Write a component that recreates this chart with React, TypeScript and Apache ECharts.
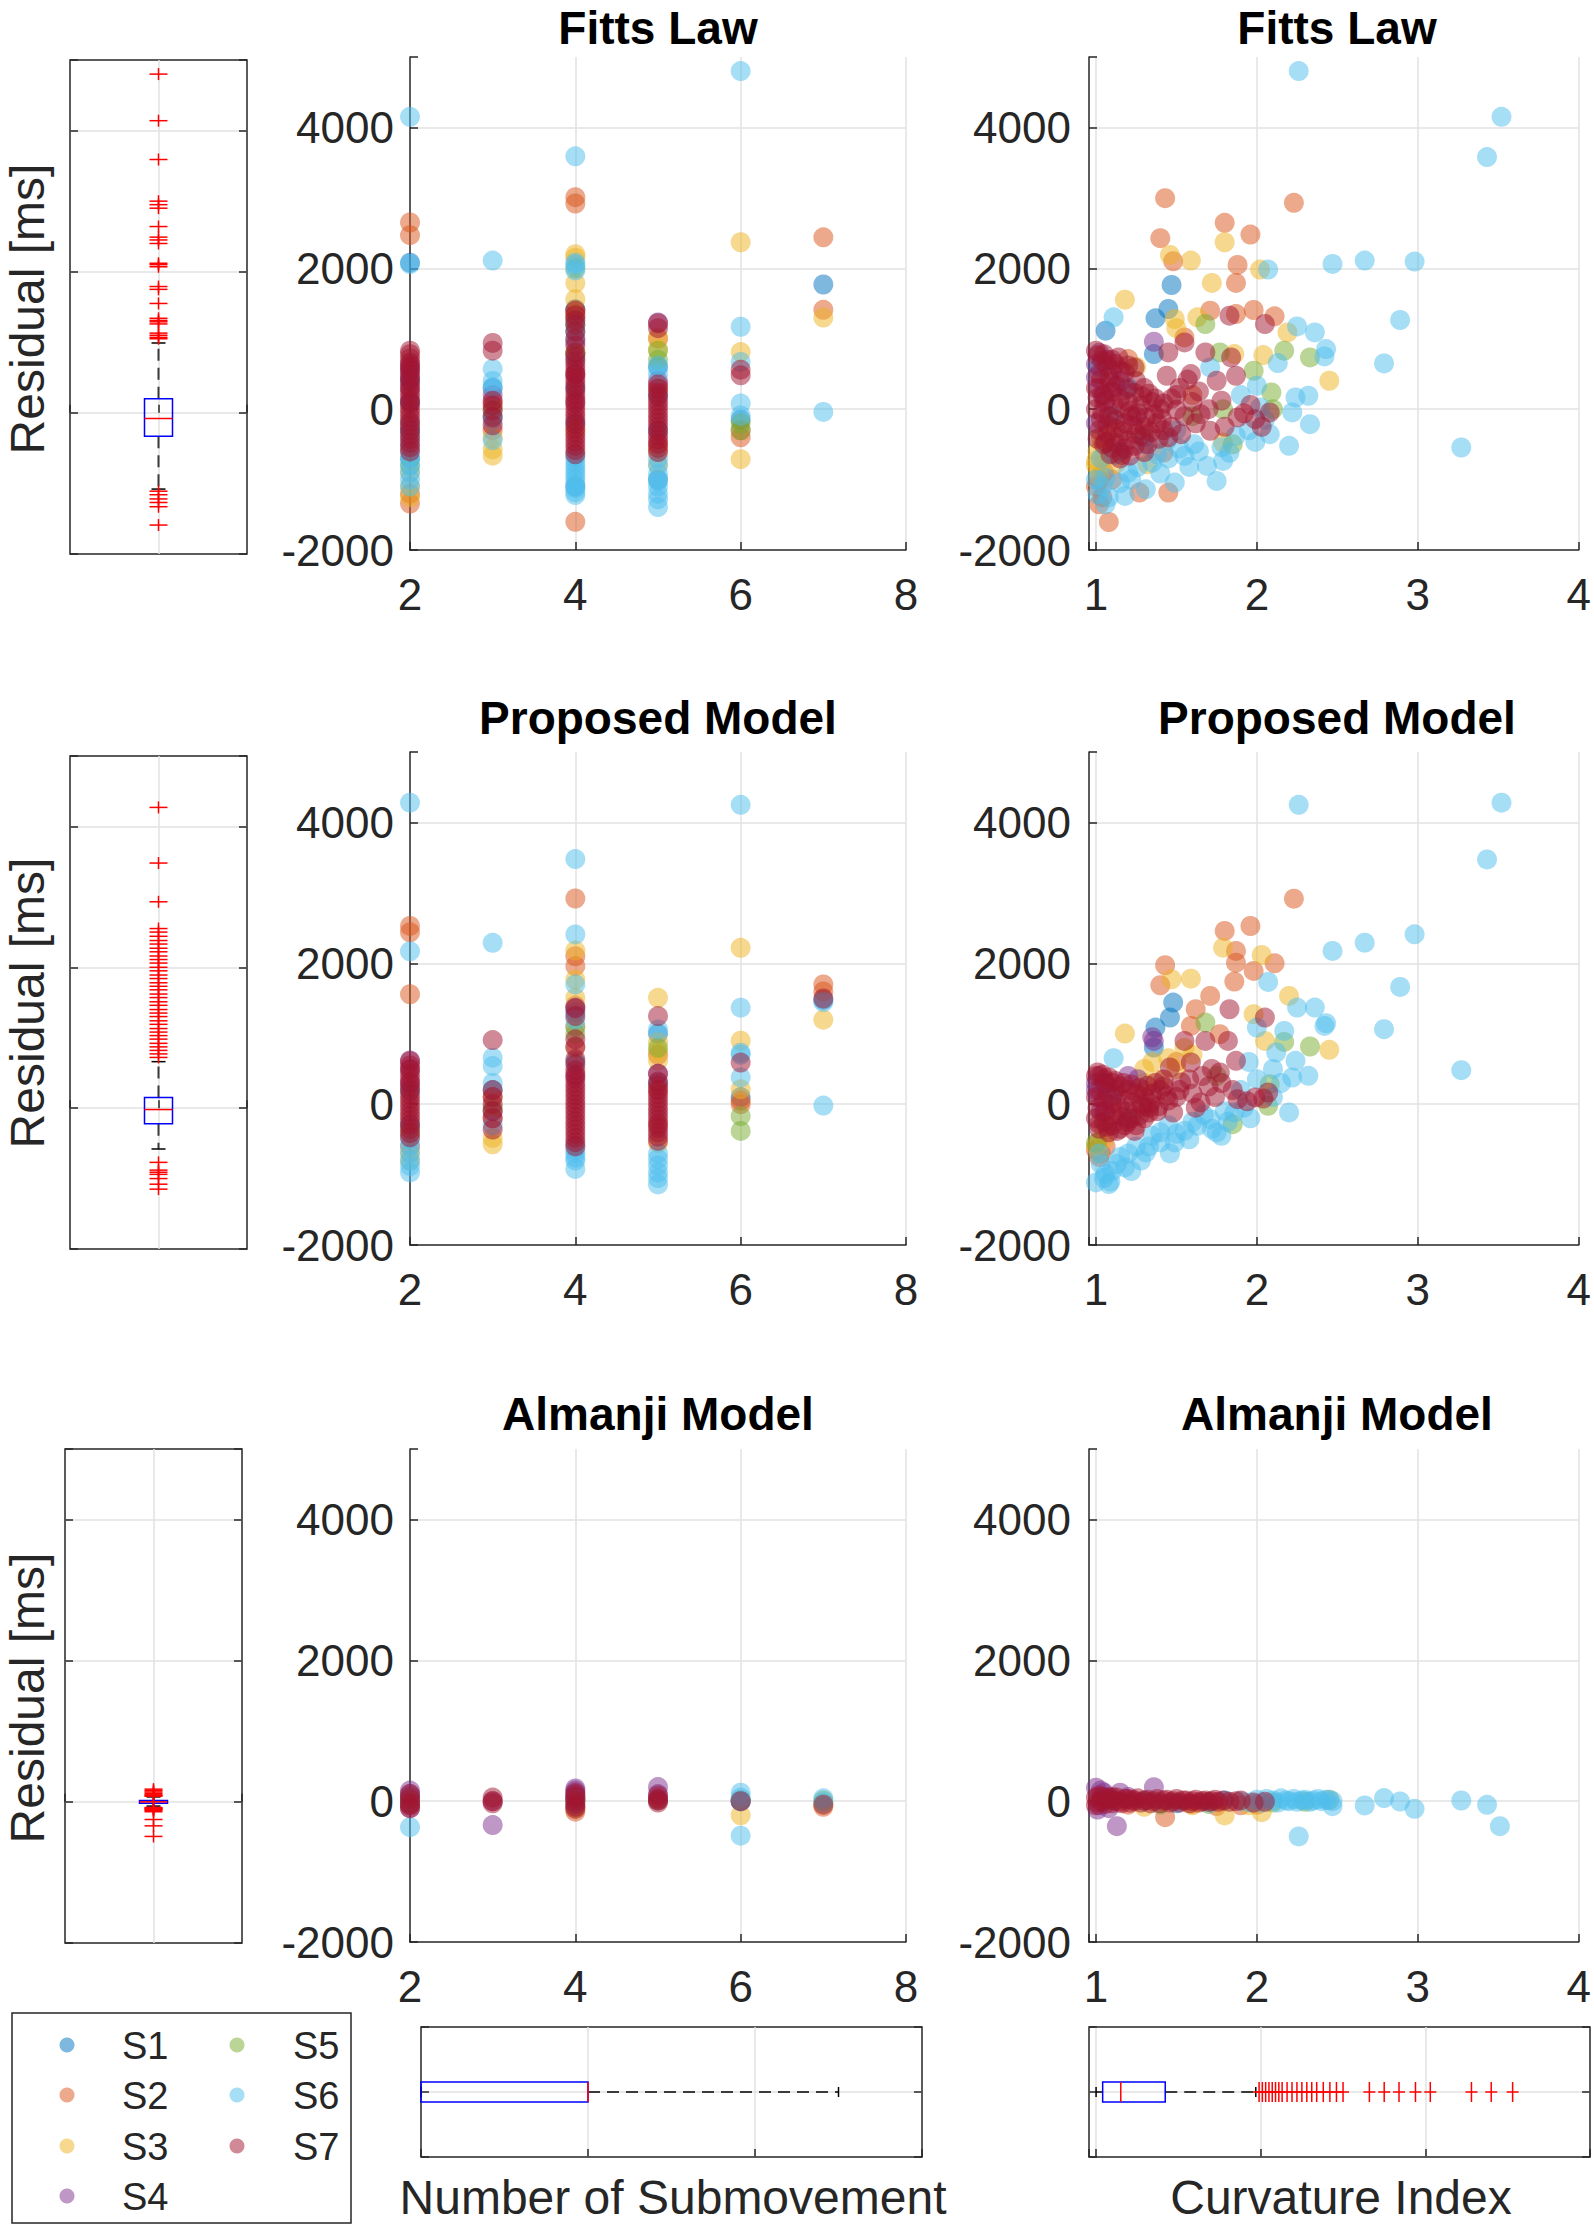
import React, { useEffect, useRef } from 'react';
import * as echarts from 'echarts';

const FONT = '"Liberation Sans", Arial, Helvetica, sans-serif';
const INK = '#262626';
const GRID_LINE = '#e2e2e2';

const SUBJECTS = ['S1', 'S2', 'S3', 'S4', 'S5', 'S6', 'S7'];
const SUBJECT_COLORS = ['#0072BD', '#D95319', '#EDB120', '#7E2F8E', '#77AC30', '#4DBEEE', '#A2142F'];
const MODEL_TITLES = ['Fitts Law', 'Proposed Model', 'Almanji Model'];
const Y_LABEL = 'Residual [ms]';
const X_LABELS = ['Number of Submovement', 'Curvature Index'];
const Y_TICKS = [-2000, 0, 2000, 4000];
const SUB_TICKS = [2, 4, 6, 8];
const CI_TICKS = [1, 2, 3, 4];

type Groups = [number, number[]][];

// ---------- Residual vs number of submovements: [nSub, residuals[]] ----------
const fittsSubS1: Groups = [[2, [2080, 400, 100, -300, -700]], [3, [300, -100]], [4, [1420, 1290, 1110, 780, 300, -200, -1100]], [5, [600, 200, -300, -1000]], [6, [-150]], [7, [1770]]];
const fittsSubS2: Groups = [[2, [2650, 2470, 600, -200, -1200, -1340]], [3, [100, -300]], [4, [3010, 2920, 1400, 1350, 500, -1600]], [5, [1000, 300, -500]], [6, [-400, -300]], [7, [2440, 1410]]];
const fittsSubS3: Groups = [[2, [-900, -1100, -1250]], [3, [-400, -570, -660]], [4, [2200, 2150, 1790, 1560, 1300, 800, -300]], [5, [1020, 850, -600, -780]], [6, [2370, 810, -710]], [7, [1300]]];
const fittsSubS4: Groups = [[2, [640, 550, 450, 300, 100]], [3, [200]], [4, [950, 500, 100]], [5, [1230, 400]]];
const fittsSubS5: Groups = [[2, [-800]], [3, [0]], [4, [2000, 1200, 800]], [5, [830, 700]], [6, [-300, -200]]];
const fittsSubS6: Groups = [[2, [4150, 2060, -200, -300, -400, -500, -600, -700, -800, -900, -1000, -1100]], [3, [2110, 570, 400, 310, -160, -440]], [4, [3590, 2080, 2050, 1970, 1200, 1000, 700, -650, -700, -760, -820, -880, -940, -1000, -1060, -1120, -1180, -1220]], [5, [620, 500, -700, -800, -920, -1020, -1100, -1200, -1280, -1390]], [6, [4800, 1170, 670, 80, -90]], [7, [-40]]];
const fittsSubS7: Groups = [[2, [830, 780, 720, 660, 600, 540, 480, 420, 360, 300, 240, 180, 120, 60, 0, -60, -120, -180, -240, -300, -360, -420, -480, -540, -600]], [3, [940, 830, 120, 50, -20, -120, -230]], [4, [1400, 1330, 1260, 1200, 1100, 1000, 900, 800, 740, 680, 620, 560, 500, 440, 380, 320, 260, 200, 140, 80, 20, -40, -100, -160, -220, -280, -340, -400, -460, -520, -580, -640]], [5, [1220, 1150, 350, 290, 230, 170, 110, 50, -10, -70, -130, -190, -250, -310, -370, -430, -490, -550, -610]], [6, [480, 560]]];

const propSubS1: Groups = [[2, [200, -300]], [3, [200]], [4, [1300, 1100, 600]], [5, [1000, 300]], [6, [100]], [7, [1480]]];
const propSubS2: Groups = [[2, [2530, 2440, 1560, -600]], [3, [100, -200]], [4, [2920, 2100, 1960, 1400, 800]], [5, [700, 200, -300]], [6, [0, 50]], [7, [1700, 1600]]];
const propSubS3: Groups = [[2, [-690, -800]], [3, [-480, -570]], [4, [2180, 1770, 1510, 1100]], [5, [1510, 880, 750, 620, -550]], [6, [2220, 900, 210]], [7, [1200]]];
const propSubS4: Groups = [[2, [620, 500, 300]], [3, [-100]], [4, [1370, 400]], [5, [430]]];
const propSubS5: Groups = [[2, [-400]], [3, [-50]], [4, [1000]], [5, [800]], [6, [-170, -380]]];
const propSubS6: Groups = [[2, [4280, 2170, -500, -590, -700, -800, -880, -970]], [3, [2290, 660, 540, 300, -300]], [4, [3480, 2410, 1700, 1200, -590, -650, -700, -760, -800, -920]], [5, [1060, -700, -780, -870, -970, -1050, -1140]], [6, [4250, 1370, 730, 700, 380]], [7, [1450, -20]]];
const propSubS7: Groups = [[2, [610, 550, 490, 430, 370, 310, 250, 190, 130, 70, 10, -50, -110, -170, -230, -290, -350, -410, -470]], [3, [910, 200, 100, 0, -100, -200, -360]], [4, [1360, 1250, 920, 820, 640, 560, 480, 420, 360, 300, 240, 180, 120, 60, 0, -60, -120, -180, -240, -300, -360, -420, -480, -540, -600]], [5, [1250, 430, 320, 260, 200, 140, 80, 20, -40, -100, -160, -220, -280, -340, -400, -460, -520]], [6, [590]], [7, [1500]]];

const almSubS1: Groups = [[2, [30]], [4, [20]], [5, [10]], [6, [0]]];
const almSubS2: Groups = [[2, [-30]], [4, [-150, -80]], [5, [20]], [7, [-80]]];
const almSubS3: Groups = [[2, [-50]], [4, [-100]], [6, [-200]], [7, [-40]]];
const almSubS4: Groups = [[2, [150, 100, 50, -50, -100]], [3, [-340, 0]], [4, [180, 150, 100, 50]], [5, [200, 100]], [6, [0]]];
const almSubS5: Groups = [[2, [0]], [4, [0]], [6, [20]], [7, [10]]];
const almSubS6: Groups = [[2, [-370, 50, 0]], [4, [-50, 30]], [6, [-490, 120, 50, 0]], [7, [40, -20]]];
const almSubS7: Groups = [[2, [100, 60, 20, -20, -60, -100]], [3, [50, 0, -30]], [4, [120, 80, 40, 0, -40, -80, -110]], [5, [80, 40, 10, -20]], [6, [0]], [7, [-50]]];

// ---------- Residual vs curvature index: [ci, residual] ----------
const fittsCiS1 = [[1.47, 1763], [1.45, 1422], [1.37, 1289], [1.06, 1114], [1.36, 782], [1.2, 300], [1.1, -100], [1.3, -400], [1.02, 600], [1.15, -600]];
const fittsCiS2 = [[1.43, 2996], [2.23, 2929], [1.8, 2645], [1.4, 2427], [1.96, 2479], [1.88, 2048], [1.87, 1792], [1.71, 1398], [1.87, 1351], [1.98, 1408], [2.11, 1318], [1.08, -1602], [1.27, -1185], [1.45, -1185], [1.02, -1351], [1.42, -616], [1.2, 711], [1.55, 1019], [1.48, 2100], [1.3, -300], [1.05, -900], [1.6, 200], [1.1, -1000], [1.0, -1100], [1.02, -1000], [1.04, -1250]];
const fittsCiS3 = [[1.46, 2190], [1.59, 2109], [1.8, 2370], [1.72, 1792], [1.18, 1555], [1.49, 1280], [2.02, 1981], [2.04, 768], [2.19, 1090], [2.45, 403], [1.63, 1303], [1.32, -782], [1.0, -735], [1.86, 782], [1.79, -474], [1.01, -600], [1.02, -850], [1.04, -500], [1.1, -300], [1.25, 600], [1.5, 1150], [1.0, -800], [1.02, -950], [1.05, -700], [1.08, -620], [1.12, -780], [1.03, -400]];
const fittsCiS4 = [[1.36, 957], [1.0, 640], [1.1, 545], [1.02, 300], [1.05, 100], [1.15, 400], [1.25, -100], [1.0, -200], [1.0, 450], [1.02, 800], [1.04, 200], [1.07, 700], [1.12, 300]];
const fittsCiS5 = [[1.68, 1209], [1.77, 806], [1.98, 545], [2.09, 237], [2.33, 735], [2.17, 830], [1.85, -498], [1.79, 0], [1.6, -100], [2.1, 0]];
const fittsCiS6 = [[3.52, 4150], [2.26, 4800], [3.43, 3579], [2.47, 2062], [2.67, 2109], [2.98, 2095], [2.07, 1981], [2.89, 1266], [2.79, 649], [3.27, -545], [1.11, 1303], [2.25, 1175], [2.36, 1090], [2.43, 853], [2.42, 749], [2.13, 654], [2.24, 166], [2.32, 190], [2.22, -47], [2.33, -213], [2.2, -521], [1.99, -465], [2.08, -355], [1.75, -1019], [1.69, -806], [1.79, -735], [1.55, -664], [1.49, -1043], [1.4, -915], [1.18, -1232], [1.31, -1138], [1.06, -1351], [1.01, -1209], [2.0, 332], [2.02, 24], [1.71, 593], [1.87, -379], [1.61, -498], [1.44, -450], [1.2, -900], [1.06, -972], [1.3, -500], [1.5, -300], [1.9, 200], [1.03, -700], [1.12, -650], [1.0, -1000], [1.04, -1100], [1.08, -1250], [1.15, -1050], [1.22, -1000], [1.26, -820], [1.35, -760], [1.38, -640], [1.45, -700], [1.52, -560], [1.58, -820], [1.64, -600], [1.78, -540], [1.83, -620], [1.95, -300], [2.05, -150]];
const fittsCiS7 = [[1.0, 830], [1.05, 780], [1.1, 700], [1.02, 500], [1.08, 450], [1.15, 550], [1.2, 620], [1.25, 400], [1.3, 300], [1.0, 300], [1.05, 200], [1.1, 250], [1.15, 150], [1.2, 100], [1.28, 50], [1.35, 100], [1.4, 0], [1.0, 0], [1.04, -50], [1.08, -100], [1.12, -150], [1.18, -200], [1.22, -100], [1.3, -250], [1.38, -200], [1.02, -300], [1.07, -350], [1.14, -400], [1.2, -450], [1.25, -350], [1.32, -500], [1.1, -550], [1.16, -650], [1.05, -500], [1.42, -300], [1.83, 1327], [2.05, 1209], [1.68, 806], [1.84, 735], [1.87, 474], [1.75, 403], [1.59, 498], [1.55, 948], [1.45, 806], [1.44, 474], [1.65, -71], [1.88, -118], [1.99, -142], [2.08, -47], [1.71, -308], [1.53, -355], [1.14, 735], [1.24, 593], [1.5, 200], [1.6, 100], [1.7, 0], [1.55, -100], [1.01, 760], [1.04, 690], [1.07, 620], [1.12, 640], [1.18, 520], [1.03, 420], [1.09, 380], [1.13, 330], [1.19, 280], [1.24, 230], [1.29, 180], [1.33, 220], [1.37, 150], [1.42, 80], [1.01, 160], [1.06, 120], [1.11, 60], [1.16, 20], [1.21, -30], [1.26, -60], [1.31, -120], [1.36, -70], [1.41, -140], [1.03, -150], [1.07, -220], [1.12, -270], [1.17, -310], [1.23, -230], [1.28, -380], [1.34, -330], [1.39, -420], [1.01, -420], [1.06, -470], [1.12, -480], [1.18, -560], [1.24, -520], [1.3, -610], [1.09, -640], [1.15, -700], [1.21, -660], [1.45, -400], [1.47, -250], [1.5, -10], [1.47, 150], [1.52, 300], [1.57, 420], [1.62, -200], [1.64, 250], [1.78, 120], [1.8, -250], [1.92, -60], [1.96, 60], [2.03, -250]];

const propCiS1 = [[1.48, 1442], [1.46, 1229], [1.37, 1087], [1.36, 804], [1.1, 100], [1.2, -200], [1.05, 300]];
const propCiS2 = [[2.23, 2917], [1.96, 2529], [1.8, 2459], [1.87, 2175], [1.87, 2009], [2.11, 2000], [1.43, 1972], [1.98, 1891], [1.86, 1740], [1.4, 1688], [1.71, 1537], [1.62, 1347], [1.59, 1111], [1.77, 993], [1.0, -650], [1.02, -750], [1.3, 200], [1.5, 600], [1.1, -100], [1.01, -550], [1.03, -700], [1.06, -600]];
const propCiS3 = [[1.79, 2222], [2.03, 2118], [1.59, 1782], [1.47, 1773], [2.2, 1537], [1.18, 1002], [1.98, 1277], [2.05, 898], [2.45, 771], [1.5, 500], [1.4, 350], [1.3, 500], [1.0, -600], [1.05, -500], [1.6, 700], [1.02, -700], [1.05, -350], [1.3, 300], [1.35, 600], [1.45, 650], [1.55, 800]];
const propCiS4 = [[1.36, 898], [1.0, 300], [1.26, 355], [1.02, 100], [1.05, -100], [1.12, 200], [1.2, 400], [1.0, 200], [1.02, 400], [1.03, -100], [1.06, 300], [1.35, 950]];
const propCiS5 = [[1.68, 1158], [2.17, 884], [2.33, 818], [2.08, 284], [2.07, -24], [1.85, -284], [1.0, -550], [1.75, 400]];
const propCiS6 = [[3.52, 4280], [2.26, 4250], [3.43, 3475], [2.07, 1735], [2.25, 1371], [2.36, 1371], [2.42, 1111], [2.17, 1040], [2.47, 2175], [2.67, 2293], [2.98, 2411], [2.89, 1664], [2.79, 1064], [3.27, 482], [1.11, 652], [2.0, 1087], [2.12, 733], [2.24, 615], [2.22, 378], [2.32, 402], [2.2, -118], [2.0, 355], [1.75, -402], [1.86, -118], [1.49, -544], [1.4, -544], [1.31, -686], [1.18, -898], [1.08, -1135], [1.0, -1111], [1.06, -993], [1.63, -307], [1.55, -378], [1.71, -213], [2.43, 1150], [1.9, 200], [1.8, -100], [1.45, -300], [1.25, -600], [1.15, -750], [1.03, -850], [1.1, -950], [1.35, -450], [2.1, 500], [1.95, 600], [1.02, -700], [1.05, -1050], [1.09, -1100], [1.13, -850], [1.2, -700], [1.22, -950], [1.28, -800], [1.33, -600], [1.4, -400], [1.46, -700], [1.5, -420], [1.58, -500], [1.6, -250], [1.67, -150], [1.72, -350], [1.78, -450], [1.82, -250], [1.92, -50], [1.96, -200], [2.1, 100], [2.15, 300]];
const propCiS7 = [[1.0, 400], [1.05, 350], [1.1, 300], [1.15, 250], [1.2, 200], [1.25, 150], [1.3, 100], [1.35, 150], [1.4, 200], [1.0, 100], [1.05, 50], [1.1, 0], [1.15, -50], [1.2, -100], [1.28, 0], [1.33, -50], [1.0, -200], [1.05, -250], [1.1, -300], [1.15, -350], [1.2, -250], [1.25, -300], [1.3, -200], [1.38, -100], [1.02, -350], [1.08, -400], [1.45, 50], [1.83, 1347], [2.05, 1229], [1.68, 898], [1.82, 898], [1.55, 898], [1.46, 520], [1.59, 591], [1.87, 615], [1.77, 449], [1.88, 71], [1.99, 95], [2.07, 165], [1.53, 307], [1.65, 24], [1.7, 250], [1.6, 150], [1.5, 100], [1.42, 350], [1.01, 450], [1.04, 420], [1.08, 380], [1.12, 330], [1.17, 300], [1.22, 280], [1.27, 230], [1.32, 260], [1.37, 300], [1.42, 250], [1.02, 200], [1.07, 160], [1.13, 120], [1.18, 60], [1.23, 20], [1.29, -40], [1.34, 20], [1.39, -30], [1.44, 120], [1.01, -60], [1.06, -100], [1.11, -150], [1.16, -180], [1.22, -200], [1.27, -160], [1.33, -120], [1.02, -280], [1.07, -320], [1.13, -380], [1.18, -300], [1.24, -380], [1.48, -120], [1.52, 200], [1.58, 350], [1.62, -50], [1.66, 400], [1.72, 500], [1.78, 300], [1.74, 100], [1.85, 200], [1.94, 40], [2.04, 80]];

const almCiS1 = [[1.1, 20], [1.3, 0], [1.5, -30], [1.8, 10]];
const almCiS2 = [[1.43, -227], [1.2, -50], [1.6, -40], [1.9, -60], [2.0, -50], [1.75, -70]];
const almCiS3 = [[1.8, -203], [2.03, -156], [1.3, -80], [1.6, -60], [2.45, 20], [1.95, -60]];
const almCiS4 = [[1.13, -355], [1.36, 199], [1.0, 190], [1.05, 120], [1.08, -100], [1.2, 60], [1.02, -60], [1.03, 150], [1.07, 60], [1.15, 120], [1.01, -120]];
const almCiS5 = [[1.4, -50], [1.7, -40], [2.1, -20], [2.3, -10]];
const almCiS6 = [[2.26, -501], [3.51, -355], [3.43, -52], [3.27, 9], [2.98, -109], [2.89, -5], [2.79, 43], [2.67, -61], [2.47, -71], [2.0, 20], [2.03, -20], [2.06, 30], [2.1, 10], [2.13, -20], [2.15, 40], [2.18, 10], [2.2, 0], [2.23, 30], [2.25, -10], [2.28, 10], [2.3, 20], [2.33, -10], [2.35, 10], [2.38, 30], [2.4, 0], [2.43, 20], [2.45, 20], [2.47, 0], [1.9, 0], [1.96, -20], [1.7, -20]];
const almCiS7 = [[1.0, 50], [1.01, -20], [1.03, 0], [1.04, 60], [1.06, -40], [1.07, 20], [1.09, 40], [1.1, -30], [1.12, 0], [1.13, 50], [1.15, -10], [1.16, -30], [1.18, 30], [1.2, 30], [1.21, -20], [1.23, 20], [1.24, 0], [1.26, 40], [1.28, -20], [1.3, 10], [1.32, 20], [1.34, -30], [1.36, 0], [1.38, 30], [1.4, -30], [1.42, 10], [1.44, 20], [1.46, -20], [1.48, 0], [1.5, 30], [1.52, -20], [1.54, 10], [1.56, 10], [1.58, -30], [1.6, 0], [1.62, 20], [1.64, -20], [1.66, 0], [1.68, 10], [1.7, -10], [1.72, 0], [1.74, 20], [1.76, -10], [1.79, 10], [1.83, -10], [1.87, 0], [1.9, 10], [1.98, -20], [2.05, -10], [1.0, -60], [1.1, 60], [1.02, 80]];

// ---------- Box plots: [lower whisker, Q1, median, Q3, upper whisker] ----------
const fittsBox = [-1080, -330, -80, 200, 990];
const fittsOutliers = [4800, 4140, 3590, 3000, 2950, 2900, 2640, 2490, 2450, 2400, 2120, 2100, 2070, 1790, 1750, 1550, 1340, 1310, 1290, 1260, 1130, 1100, 1070, 1050, -1110, -1160, -1220, -1270, -1330, -1590];
const propBox = [-580, -220, -20, 150, 660];
const propOutliers = [4270, 3480, 2930, 2550, 2500, 2440, 2380, 2330, 2270, 2220, 2160, 2110, 2060, 2000, 1950, 1890, 1840, 1780, 1730, 1680, 1620, 1570, 1510, 1460, 1400, 1350, 1300, 1240, 1190, 1130, 1080, 1030, 980, 920, 870, 820, 770, 720, -770, -880, -910, -940, -1000, -1080, -1150];
const almBox = [-60, -20, 0, 20, 70];
const almOutliers = [180, 160, 140, 120, 100, 90, 80, -80, -90, -100, -110, -120, -140, -250, -340, -490];
const subBox = [2, 2, 4, 4, 7];
const ciBox = [1.0, 1.04, 1.15, 1.42, 1.97];
const ciOutliers = [1.99, 2.01, 2.03, 2.05, 2.07, 2.09, 2.11, 2.13, 2.16, 2.19, 2.22, 2.25, 2.28, 2.31, 2.34, 2.38, 2.42, 2.46, 2.5, 2.66, 2.75, 2.84, 2.94, 3.03, 3.28, 3.4, 3.53];

const SUB_DATA = [
  [fittsSubS1, fittsSubS2, fittsSubS3, fittsSubS4, fittsSubS5, fittsSubS6, fittsSubS7],
  [propSubS1, propSubS2, propSubS3, propSubS4, propSubS5, propSubS6, propSubS7],
  [almSubS1, almSubS2, almSubS3, almSubS4, almSubS5, almSubS6, almSubS7],
];
const CI_DATA = [
  [fittsCiS1, fittsCiS2, fittsCiS3, fittsCiS4, fittsCiS5, fittsCiS6, fittsCiS7],
  [propCiS1, propCiS2, propCiS3, propCiS4, propCiS5, propCiS6, propCiS7],
  [almCiS1, almCiS2, almCiS3, almCiS4, almCiS5, almCiS6, almCiS7],
];
const BOXES = [fittsBox, propBox, almBox];
const OUTLIERS = [fittsOutliers, propOutliers, almOutliers];

// ---------- layout (px) ----------
const ROW_TOP = [57, 752, 1449];
const PLOT_H = 493;
const PLOT_W = 496;
const SUB_LEFT = 410;
const CI_LEFT = 1089;
const BOX_RECTS = [[70, 60, 177, 494], [70, 756, 177, 493], [65, 1449, 177, 494]];
const TITLE_Y = [28, 718, 1414];
const YLABEL_Y = [309, 1003, 1698];
const BOTTOM_TOP = 2027;
const BOTTOM_H = 130;
const BOTTOM_SUB = [421, 501];
const BOTTOM_CI = [1089, 501];

function flatten(groups: Groups): number[][] {
  const out: number[][] = [];
  groups.forEach(([x, ys]) => ys.forEach((y) => out.push([x, y])));
  return out;
}

const lineStyle = { color: INK, width: 1.5 };
const dashStyle = { stroke: '#3a3a3a', lineWidth: 2, lineDash: [12, 7] };
const solidBlack = { stroke: '#000', lineWidth: 1.5 };
const boxStroke = { stroke: '#0000FF', lineWidth: 1.5, fill: 'none' };
const medStroke = { stroke: '#FF0000', lineWidth: 1.5 };
const plusStroke = { stroke: '#FF0000', lineWidth: 1.5 };

function renderVBox(_p: any, api: any) {
  const x = api.value(0);
  const lo = api.coord([x, api.value(1)]);
  const q1 = api.coord([x, api.value(2)]);
  const md = api.coord([x, api.value(3)]);
  const q3 = api.coord([x, api.value(4)]);
  const hi = api.coord([x, api.value(5)]);
  const cx = lo[0];
  const bw = 28, cw = 14;
  return {
    type: 'group',
    children: [
      { type: 'line', shape: { x1: cx, y1: q3[1], x2: cx, y2: hi[1] }, style: dashStyle },
      { type: 'line', shape: { x1: cx, y1: q1[1], x2: cx, y2: lo[1] }, style: dashStyle },
      { type: 'line', shape: { x1: cx - cw / 2, y1: hi[1], x2: cx + cw / 2, y2: hi[1] }, style: solidBlack },
      { type: 'line', shape: { x1: cx - cw / 2, y1: lo[1], x2: cx + cw / 2, y2: lo[1] }, style: solidBlack },
      { type: 'rect', shape: { x: cx - bw / 2, y: q3[1], width: bw, height: q1[1] - q3[1] }, style: boxStroke },
      { type: 'line', shape: { x1: cx - bw / 2, y1: md[1], x2: cx + bw / 2, y2: md[1] }, style: medStroke },
    ],
  };
}

function renderHBox(_p: any, api: any) {
  const y = api.value(5);
  const lo = api.coord([api.value(0), y]);
  const q1 = api.coord([api.value(1), y]);
  const md = api.coord([api.value(2), y]);
  const q3 = api.coord([api.value(3), y]);
  const hi = api.coord([api.value(4), y]);
  const cy = lo[1];
  const bh = 20, ch = 10;
  return {
    type: 'group',
    children: [
      { type: 'line', shape: { x1: q3[0], y1: cy, x2: hi[0], y2: cy }, style: dashStyle },
      { type: 'line', shape: { x1: lo[0], y1: cy, x2: q1[0], y2: cy }, style: dashStyle },
      { type: 'line', shape: { x1: hi[0], y1: cy - ch / 2, x2: hi[0], y2: cy + ch / 2 }, style: solidBlack },
      { type: 'line', shape: { x1: lo[0], y1: cy - ch / 2, x2: lo[0], y2: cy + ch / 2 }, style: solidBlack },
      { type: 'rect', shape: { x: q1[0], y: cy - bh / 2, width: q3[0] - q1[0], height: bh }, style: boxStroke },
      { type: 'line', shape: { x1: md[0], y1: cy - bh / 2, x2: md[0], y2: cy + bh / 2 }, style: medStroke },
    ],
  };
}

function makePlus(hw: number, hh: number) {
  return (_p: any, api: any) => {
    const p = api.coord([api.value(0), api.value(1)]);
    return {
      type: 'group',
      children: [
        { type: 'line', shape: { x1: p[0] - hw, y1: p[1], x2: p[0] + hw, y2: p[1] }, style: plusStroke },
        { type: 'line', shape: { x1: p[0], y1: p[1] - hh, x2: p[0], y2: p[1] + hh }, style: plusStroke },
      ],
    };
  };
}

function buildOption(): any {
  const grids: any[] = [];
  const xAxes: any[] = [];
  const yAxes: any[] = [];
  const extraY: any[] = [];
  const series: any[] = [];

  const tickLabel = { fontSize: 44, color: INK, fontFamily: FONT };
  const split = (showMin: boolean, showMax: boolean) => ({ show: true, showMinLine: showMin, showMaxLine: showMax, lineStyle: { color: GRID_LINE, width: 1.5 } });

  const addScatterPanel = (left: number, top: number, isCi: boolean, row: number) => {
    const gi = grids.length;
    grids.push({ left, top, width: PLOT_W, height: PLOT_H, show: false });
    xAxes.push(isCi
      ? { type: 'value', gridIndex: gi, min: 0.957, max: 4, splitNumber: 3, minInterval: 1, maxInterval: 1,
          axisLine: { show: true, onZero: false, lineStyle }, axisTick: { show: true, inside: true, length: 8, lineStyle },
          axisLabel: { ...tickLabel, margin: 22, formatter: (v: number) => (CI_TICKS.includes(v) ? String(v) : '') },
          splitLine: split(false, true) }
      : { type: 'value', gridIndex: gi, min: 2, max: 8, interval: 2,
          axisLine: { show: true, onZero: false, lineStyle }, axisTick: { show: true, inside: true, length: 8, lineStyle },
          axisLabel: { ...tickLabel, margin: 22, formatter: (v: number) => (SUB_TICKS.includes(v) ? String(v) : '') },
          splitLine: split(false, true) });
    yAxes.push({ type: 'value', gridIndex: gi, min: -2000, max: 5000, interval: 2000,
      axisLine: { show: true, onZero: false, lineStyle }, axisTick: { show: true, inside: true, length: 8, lineStyle },
      axisLabel: { ...tickLabel, margin: isCi ? 18 : 16, formatter: (v: number) => (Y_TICKS.includes(v) ? String(v) : '') },
      splitLine: split(false, false) });
    SUBJECTS.forEach((name, s) => {
      const data = isCi ? CI_DATA[row][s] : flatten(SUB_DATA[row][s]);
      series.push({ type: 'scatter', name, xAxisIndex: gi, yAxisIndex: gi, data, symbol: 'circle', symbolSize: 20,
        itemStyle: { color: SUBJECT_COLORS[s], opacity: 0.5 }, clip: false, silent: true });
    });
  };

  const addBoxFrame = (left: number, top: number, width: number, height: number, vertical: boolean, xr: [number, number, number]) => {
    const gi = grids.length;
    grids.push({ left, top, width, height, show: true, borderColor: INK, borderWidth: 1.5, backgroundColor: 'transparent' });
    const tick = { show: true, inside: true, length: 8, lineStyle };
    if (vertical) {
      xAxes.push({ type: 'value', gridIndex: gi, min: 0, max: 2, interval: 1, axisLine: { show: false }, axisTick: tick,
        axisLabel: { show: false }, splitLine: split(false, false) });
      yAxes.push({ type: 'value', gridIndex: gi, min: -2000, max: 5000, interval: 2000, axisLine: { show: false }, axisTick: tick,
        axisLabel: { show: false }, splitLine: split(false, false) });
      extraY.push({ type: 'value', gridIndex: gi, position: 'right', min: -2000, max: 5000, interval: 2000, axisLine: { show: false },
        axisTick: tick, axisLabel: { show: false }, splitLine: { show: false } });
    } else {
      const [mn, mx, iv] = xr;
      xAxes.push(iv > 0
        ? { type: 'value', gridIndex: gi, min: mn, max: mx, interval: iv, axisLine: { show: false }, axisTick: tick, axisLabel: { show: false }, splitLine: split(false, false) }
        : { type: 'value', gridIndex: gi, min: mn, max: mx, splitNumber: 3, minInterval: 1, maxInterval: 1, axisLine: { show: false }, axisTick: tick, axisLabel: { show: false }, splitLine: split(false, false) });
      yAxes.push({ type: 'value', gridIndex: gi, min: 0, max: 2, interval: 1, axisLine: { show: false }, axisTick: tick,
        axisLabel: { show: false }, splitLine: split(false, false) });
      extraY.push({ type: 'value', gridIndex: gi, position: 'right', min: 0, max: 2, interval: 1, axisLine: { show: false },
        axisTick: tick, axisLabel: { show: false }, splitLine: { show: false } });
    }
    return gi;
  };

  const boxGrids: number[] = [];
  for (let r = 0; r < 3; r++) {
    const [bl, bt, bw, bh] = BOX_RECTS[r];
    boxGrids.push(addBoxFrame(bl, bt, bw, bh, true, [0, 0, 0]));
    addScatterPanel(SUB_LEFT, ROW_TOP[r], false, r);
    addScatterPanel(CI_LEFT, ROW_TOP[r], true, r);
  }
  const subGrid = addBoxFrame(BOTTOM_SUB[0], BOTTOM_TOP, BOTTOM_SUB[1], BOTTOM_H, false, [2, 8, 2]);
  const ciGrid = addBoxFrame(BOTTOM_CI[0], BOTTOM_TOP, BOTTOM_CI[1], BOTTOM_H, false, [0.957, 4, 0]);

  const vPlus = makePlus(9, 6);
  const hPlus = makePlus(6, 10);
  boxGrids.forEach((gi, r) => {
    series.push({ type: 'custom', name: 'box' + r, xAxisIndex: gi, yAxisIndex: gi, renderItem: renderVBox,
      encode: { x: 0, y: [1, 2, 3, 4, 5] }, data: [[1, ...BOXES[r]]], silent: true, z: 3 });
    series.push({ type: 'custom', name: 'outliers' + r, xAxisIndex: gi, yAxisIndex: gi, renderItem: vPlus,
      encode: { x: 0, y: 1 }, data: OUTLIERS[r].map((v) => [1, v]), silent: true, z: 4 });
  });
  series.push({ type: 'custom', name: 'subBox', xAxisIndex: subGrid, yAxisIndex: subGrid, renderItem: renderHBox,
    encode: { x: [0, 1, 2, 3, 4], y: 5 }, data: [[...subBox, 1]], silent: true, z: 3 });
  series.push({ type: 'custom', name: 'ciBox', xAxisIndex: ciGrid, yAxisIndex: ciGrid, renderItem: renderHBox,
    encode: { x: [0, 1, 2, 3, 4], y: 5 }, data: [[...ciBox, 1]], silent: true, z: 3 });
  series.push({ type: 'custom', name: 'ciOut', xAxisIndex: ciGrid, yAxisIndex: ciGrid, renderItem: hPlus,
    encode: { x: 0, y: 1 }, data: ciOutliers.map((v) => [v, 1]), silent: true, z: 4 });

  const center = { align: 'center', verticalAlign: 'middle', textAlign: 'center', textVerticalAlign: 'middle' };
  const graphic: any[] = [];
  const subCx = SUB_LEFT + PLOT_W / 2;
  const ciCx = CI_LEFT + PLOT_W / 2;
  MODEL_TITLES.forEach((t, r) => {
    [subCx, ciCx].forEach((cx) => graphic.push({ type: 'text', x: cx, y: TITLE_Y[r], silent: true,
      style: { text: t, fontSize: 46, fontWeight: 'bold', fontFamily: FONT, fill: '#000', ...center } }));
    graphic.push({ type: 'text', x: 27, y: YLABEL_Y[r], rotation: Math.PI / 2, silent: true,
      style: { text: Y_LABEL, fontSize: 48, fontFamily: FONT, fill: INK, ...center } });
  });
  graphic.push({ type: 'text', x: 673, y: 2197, silent: true, style: { text: X_LABELS[0], fontSize: 48, fontFamily: FONT, fill: INK, ...center } });
  graphic.push({ type: 'text', x: 1341, y: 2197, silent: true, style: { text: X_LABELS[1], fontSize: 48, fontFamily: FONT, fill: INK, ...center } });

  // legend box
  graphic.push({ type: 'rect', silent: true, shape: { x: 12, y: 2013, width: 339, height: 210 }, style: { fill: '#fff', stroke: INK, lineWidth: 1.5 } });
  const legendRows = [2045, 2095, 2146, 2196];
  SUBJECTS.forEach((name, s) => {
    const col = s < 4 ? 0 : 1;
    const row = s < 4 ? s : s - 4;
    const mx = col === 0 ? 67 : 237;
    const tx = col === 0 ? 122 : 293;
    graphic.push({ type: 'circle', silent: true, shape: { cx: mx, cy: legendRows[row], r: 7.5 }, style: { fill: SUBJECT_COLORS[s], opacity: 0.5 } });
    graphic.push({ type: 'text', silent: true, x: tx, y: legendRows[row] + 1,
      style: { text: name, fontSize: 38, fontFamily: FONT, fill: INK, align: 'left', verticalAlign: 'middle', textAlign: 'left', textVerticalAlign: 'middle' } });
  });

  return {
    animation: false,
    backgroundColor: '#fff',
    textStyle: { fontFamily: FONT },
    grid: grids,
    xAxis: xAxes,
    yAxis: [...yAxes, ...extraY],
    series,
    graphic,
  };
}

export default function App() {
  const ref = useRef<HTMLDivElement>(null);
  useEffect(() => {
    if (!ref.current) return;
    const chart = echarts.init(ref.current, undefined, { renderer: 'svg', width: 1594, height: 2226 });
    chart.setOption(buildOption());
    return () => chart.dispose();
  }, []);
  return <div ref={ref} style={{ position: 'absolute', left: 0, top: 0, width: 1594, height: 2226, background: '#fff' }} />;
}
